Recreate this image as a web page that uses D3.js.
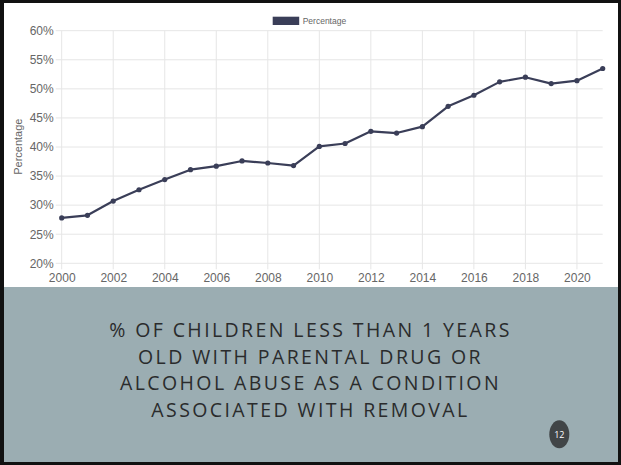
<!DOCTYPE html>
<html lang="en">
<head>
    <meta charset="utf-8">
    <title>Percentage chart</title>
    <script src="https://d3js.org/d3.v7.min.js"></script>
    <style>
        body, html {
            margin: 0;
            padding: 0;
            overflow: hidden;
            background: #fff;
        }
        .tick text {
            font: 12px "Liberation Sans", Arial, Helvetica, sans-serif;
            fill: #666;
        }
    </style>
</head>
<body>
    <svg width="621" height="465"></svg>
    <script>
        // data
        var years = [2000, 2001, 2002, 2003, 2004, 2005, 2006, 2007, 2008, 2009, 2010,
                     2011, 2012, 2013, 2014, 2015, 2016, 2017, 2018, 2019, 2020, 2021];
        var percentage = [27.8, 28.25, 30.7, 32.65, 34.4, 36.1, 36.7, 37.6, 37.25, 36.8, 40.1,
                          40.6, 42.7, 42.4, 43.5, 47.0, 48.9, 51.2, 52.0, 50.9, 51.4, 53.5];
        var yTicks = [20, 25, 30, 35, 40, 45, 50, 55, 60];
        var xTicks = [2000, 2002, 2004, 2006, 2008, 2010, 2012, 2014, 2016, 2018, 2020];
        var seriesName = "Percentage";
        var titleLines = ["% OF CHILDREN LESS THAN 1 YEARS",
                          "OLD WITH PARENTAL DRUG OR",
                          "ALCOHOL ABUSE AS A CONDITION",
                          "ASSOCIATED WITH REMOVAL"];

        var width = 621, height = 465;
        var svg = d3.select("svg");
        var lineColor = "#3a3e58";

        // slide frame
        svg.append("rect").attr("x", 0).attr("y", 0).attr("width", width).attr("height", height)
            .attr("fill", "#111");
        svg.append("rect").attr("x", 4).attr("y", 3).attr("width", width - 7).attr("height", 284)
            .attr("fill", "#fff");
        svg.append("rect").attr("x", 4).attr("y", 287).attr("width", width - 7).attr("height", 175)
            .attr("fill", "#9badb2");

        var x = d3.scaleLinear().domain([2000, 2021]).range([61.7, 602.7]);
        var y = d3.scaleLinear().domain([20, 60]).range([263.3, 30.7]);

        var g = svg.append("g");

        // grid
        g.selectAll(".hgrid").data(yTicks).enter().append("line")
            .attr("x1", x.range()[0] - 6).attr("x2", x.range()[1])
            .attr("y1", function (d) { return y(d); }).attr("y2", function (d) { return y(d); })
            .attr("stroke", "#e6e6e6").attr("stroke-width", 1);
        g.selectAll(".vgrid").data(xTicks).enter().append("line")
            .attr("y1", y.range()[1]).attr("y2", y.range()[0] + 6)
            .attr("x1", function (d) { return x(d); }).attr("x2", function (d) { return x(d); })
            .attr("stroke", "#e6e6e6").attr("stroke-width", 1);

        // axes (labels only)
        g.append("g").attr("transform", "translate(" + (x.range()[0] - 8) + ",0)")
            .call(d3.axisLeft(y).tickValues(yTicks).tickSize(0).tickPadding(0)
                .tickFormat(function (d) { return d + "%"; }));
        g.append("g").attr("transform", "translate(0," + (y.range()[0] + 10.5) + ")")
            .call(d3.axisBottom(x).tickValues(xTicks).tickSize(0).tickPadding(0)
                .tickFormat(d3.format("d")));
        g.selectAll(".domain").remove();

        // y axis title
        svg.append("text")
            .attr("transform", "translate(21.5,146.7) rotate(-90)")
            .attr("text-anchor", "middle")
            .style("font", "11px 'Liberation Sans', Arial, sans-serif")
            .attr("fill", "#666")
            .text(seriesName);

        // legend
        svg.append("rect").attr("x", 272.7).attr("y", 16.7).attr("width", 26.5).attr("height", 8.3)
            .attr("fill", lineColor);
        svg.append("text").attr("x", 302.7).attr("y", 23.6)
            .style("font", "8.5px 'Liberation Sans', Arial, sans-serif")
            .attr("fill", "#666")
            .text(seriesName);

        // line + points
        var data = years.map(function (yr, i) { return { year: yr, value: percentage[i] }; });
        var line = d3.line()
            .x(function (d) { return x(d.year); })
            .y(function (d) { return y(d.value); });
        g.append("path").datum(data)
            .attr("d", line)
            .attr("fill", "none")
            .attr("stroke", lineColor)
            .attr("stroke-width", 2.2)
            .attr("stroke-linejoin", "round");
        g.selectAll(".pt").data(data).enter().append("circle")
            .attr("cx", function (d) { return x(d.year); })
            .attr("cy", function (d) { return y(d.value); })
            .attr("r", 2.6)
            .attr("fill", lineColor);

        // slide title
        svg.append("g").selectAll("text").data(titleLines).enter().append("text")
            .attr("x", 310.5)
            .attr("y", function (d, i) { return 337.3 + i * 26.4; })
            .attr("text-anchor", "middle")
            .style("font", "19.5px 'Open Sans', sans-serif")
            .style("letter-spacing", "2.4px")
            .attr("fill", "#2a2b2c")
            .text(function (d) { return d; });

        // page number
        svg.append("ellipse").attr("cx", 559.3).attr("cy", 434.3).attr("rx", 10).attr("ry", 14)
            .attr("fill", "#414547");
        svg.append("text").attr("x", 559.3).attr("y", 437.5)
            .attr("text-anchor", "middle")
            .style("font", "9px 'Open Sans', sans-serif")
            .attr("fill", "#fff")
            .text("12");
    </script>
</body>
</html>
